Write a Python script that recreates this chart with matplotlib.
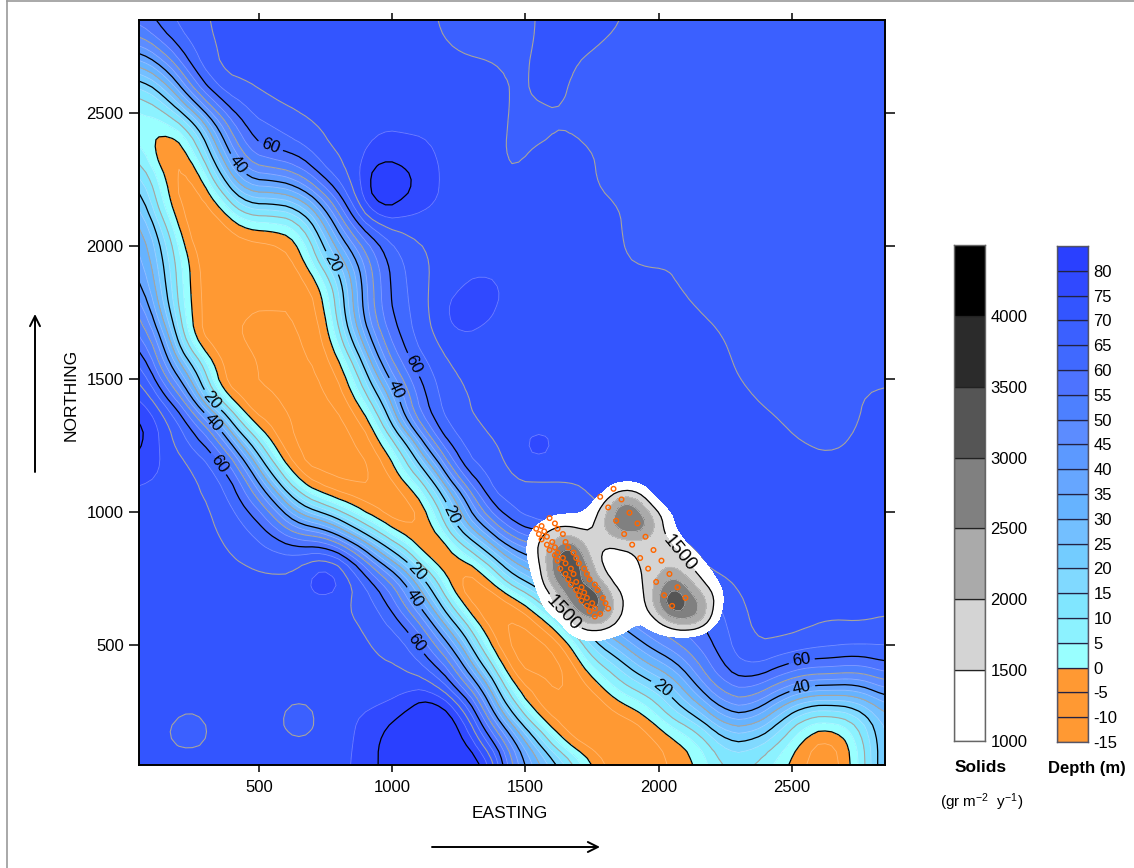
import numpy as np
import matplotlib
matplotlib.use("Agg")
import matplotlib.pyplot as plt
from matplotlib.lines import Line2D

plt.rcParams['font.family'] = ['Liberation Sans', 'DejaVu Sans']
plt.rcParams['mathtext.default'] = 'regular'
plt.rcParams['axes.unicode_minus'] = False

W, H = 1134, 868

# depth (m) on a 100 m grid, north to south
easting = [50 + 100 * i for i in range(29)]
northing = [2850 - 100 * i for i in range(29)]
depth_rows = [
    [57,64,68.5,71,72,72,72,72,72,72,72,70.3,68.5,68,68,70.3,72.5,71.5,70.3,68.5,67.5,67.5,67.5,67.5,67.5,67.5,67.5,67.5,67.5],
    [44,56,66,71,72,72,72,72,72,72,72,71,69.5,69,69.3,70.3,70.8,70.2,69,68,67.5,67.5,67.5,67.5,67.5,67.5,67.5,67.5,67.5],
    [23,37,60,71,71.5,72,72,72,72,72,72,72,71.5,71,69.6,70.3,70.4,69,68.5,68,67.5,67.5,67.5,67.5,67.5,67.5,67.5,67.5,67.5],
    [6,16,42,62,67,70.5,71.5,72,72,72,72,72,72,71,69.7,70.15,70.15,69,68.5,68,67.5,67.5,67.5,67.5,67.5,67.5,67.5,67.5,67.5],
    [3,0,12,43,62,65,68.5,71,72,74.5,74.5,74.4,72.5,71,69.7,69.4,69.95,69,68,67.5,67.5,67.5,67.5,67.5,67.5,67.5,67.5,67.5,67.5],
    [8,-8,0,30,55,60,62,69.5,72,78,76.5,75.5,72.5,71,69.5,70.2,71,70.2,69,68,67.5,67.5,67.5,67.5,67.5,67.5,67.5,67.5,67.5],
    [19,-1.5,-10,15,41,41,47,62,71,87,83,76,72.5,71,69.8,71.5,72,70.2,68.5,68,67.5,67.5,67.5,67.5,67.5,67.5,67.5,67.5,67.5],
    [28,1,-10,-3,18,17,21,42,66,84,78,75,73,72,71.5,72,72,71,70.2,68.5,67.5,67.5,67.5,67.5,67.5,67.5,67.5,67.5,67.5],
    [35,13,-10,-10,-4,-3.5,1,27,52,65,70.3,71.5,72,72,72,72,72,72,70.2,68.5,67.5,67.5,67.5,67.5,67.5,67.5,67.5,67.5,67.5],
    [39,18,-4,-10,-8.5,-8,-5,17,36,57,66,70.8,72,72,72,72,72,72,70.3,69.5,70,69,67.5,67.5,67.5,67.5,67.5,67.5,67.5],
    [44,20,-4,-9,-9.5,-9.5,-9,1,30,56,65,71,74.5,78,73,72,72,72,71,71,70.2,69,67.5,67.5,67.5,67.5,67.5,67.5,67.5],
    [53,24,-3.5,-9,-10,-10,-10,-3,30,56,64,71,79,77,72,72,72,72,72,72,71.5,70.1,68.5,67.5,67.5,67.5,67.5,67.5,67.5],
    [59,38,-4,-9,-10.5,-11,-11,-6,21,49,63,69.7,74.5,72.5,72,72,72,72,72,72,72,72,70,67.8,67.5,67.5,67.5,67.5,67.5],
    [68.5,45,21,-6,-9,-11,-11,-9,5,39,58,66,71.5,72,72,72,72,72,72,72,72,72,71,68,67.5,67.5,67.5,67.5,67.5],
    [75,59,38,-3,-10,-10,-12,-11,-2,22,49,64,69.5,71,72,72,72,72,72,72,72,72,71.8,70,68.5,67.5,68,69.8,71],
    [82,72,57,36,-3,-8,-11,-13,-9,5,44,62,69,71,72,72,72,72,72,72,72,72,72,71,70.2,68,68,69.9,71.5],
    [83,72.5,65,56,28,-3,-12,-13,-12,-4,14,50,65,69,71.5,80,72,72,72,72,72,72,72,72,71.5,70.2,69,71,71.8],
    [76,75,71,65,50,17,-9,-12,-13,-10,4,23,59,66,71,71,70.5,70.5,72,72,72,72,72,72,72,72,72,72,72],
    [74.5,72.5,71,69,58,42,14,0,-6,-10,-9,6,32,62,68,68,69,70,72,72,72,72,72,72,72,72,72,72,72],
    [73,73,72.5,69.7,66,57,42,37,16,1,-9,-3,24,43,61,66,67,68,68,69.5,71,72,72,72,72,72,72,72,72],
    [72,72,72,71,68.5,66,65,68,56,31,11,-11,0,18,38,44,52,60,64,66,68,70,72,72,72,72,72,72,72],
    [72,72,72,72,71.5,71,72,83,71,57,40,12,-11,-6,18,28,44,56,60,64,67,69,70.2,72,72,72,72,72,72],
    [72,72,72,72,72,72,72,72,69.5,66,50,30,0,-12,-10,6,24,40,50,56,60,60,66,71.5,72,72,72,72,72],
    [72,72,72,72,72,72,72,72,71.5,68,64,47,24,-4,-13,-11,3,24,37,47,54,59,64,70.8,72,70.5,68,69,67],
    [72,72,72,72,72,72,72,72,72,70.5,69,59,43,10,-12,-14,-11,10,19,33,41,52,63,68.5,65,62,62,60,63],
    [72,72,72,72,72,72,72,72,72,71,73,73,56,36,-3,-8,-12,-5,8,15,24,43,56,58,50,42,41,40,48],
    [72,71,69.5,71.5,72,71,68,71,74.5,76,80,88,78,50,18,-7,-9,-11,-5,0,14,24,41,42,26,13,12,16,30],
    [72,69.8,68,71,72,71,69.5,71,74.5,80,86,85,85,65,43,17,-6,-10,-12,-8,-2,5,20,20,12,-3,-8,5,27],
    [72,72,72,72,72,72,72,72,75,80,86,86,86,83,50,33,18,0,-8,-8,-5,0,11,10,2,-6,-9,3,28],
]
depth_levels = [-15,-10,-5,0,5,10,15,20,25,30,35,40,45,50,55,60,65,70,75,80,85]
depth_colors = ['#FF9933','#FF9933','#FF9933','#99FFFF','#8CF2FF','#80E6FF','#80D9FF','#73CCFF','#73BFFF',
                '#66B3FF','#66A6FF','#5C99FF','#5C8CFF','#4D80FF','#4D73FF','#4069FF','#3B60FF','#3355FF',
                '#3049FF','#2A40FF']

# solids flux, 50 m grid round the sampled patch
solids_e = [1450 + 50 * i for i in range(17)]
solids_n = [1150 - 50 * i for i in range(14)]
solids_rows = [
    [600,600,600,600,600,600,600,700,750,750,700,600,600,600,600,600,600],
    [600,600,600,600,600,600,600,900,1200,1200,900,600,600,600,600,600,600],
    [600,600,600,600,600,700,950,1600,2500,2400,1500,800,600,600,600,600,600],
    [600,600,700,950,1000,1000,1300,2200,2900,2900,2300,1500,900,600,600,600,600],
    [600,800,1200,1500,1550,1400,1450,2200,2750,2900,2550,1600,1000,600,600,600,600],
    [600,950,1650,2000,2500,2000,1650,1650,1850,1900,1800,1700,1450,850,600,600,600],
    [600,1000,1650,2650,3700,2550,1650,1300,1300,1450,1850,1800,1650,1300,900,600,600],
    [600,850,1450,2750,3550,3100,1950,1250,1200,1300,1700,1900,2050,1600,1250,850,600],
    [600,750,1300,2500,3100,3150,2350,1650,1150,1200,1700,2200,2750,2150,1550,1080,700],
    [600,600,1050,1600,2700,3250,3500,2250,1480,1150,1600,2700,3400,2800,2100,1500,750],
    [600,600,850,1400,2000,3000,3350,2500,1550,1200,1450,2600,3500,3000,2600,1400,750],
    [600,600,600,750,1300,1900,2450,2000,1350,1020,1100,1600,2300,2500,2150,1150,700],
    [600,600,600,600,900,1150,1150,1100,1000,850,850,950,1050,1050,900,600,600],
    [600,600,600,600,600,750,900,750,600,600,600,600,600,600,600,600,600],
]
solids_levels = [1000,1500,2000,2500,3000,3500,4000,4500]
solids_colors = ['#FFFFFF','#D4D4D4','#AAAAAA','#808080','#555555','#2B2B2B','#000000']

# sampling stations
station_e = [1831,1781,1861,1811,1891,1841,1921,1871,1951,1901,1981,1931,2011,1961,2041,1991,2071,2021,2101,2051,
             1591,1611,1621,1561,1541,1571,1551,1581,1561,1641,1651,1601,1581,1661,1611,1591,1681,1621,1611,1641,
             1691,1621,1651,1701,1631,1671,1721,1681,1651,1731,1661,1741,1691,1671,1761,1711,1691,1771,1721,1701,
             1791,1731,1711,1751,1801,1731,1761,1811,1741,1781,1761]
station_n = [1088,1058,1048,1018,998,968,958,918,908,878,858,828,818,788,768,738,718,688,678,648,
             978,958,938,948,938,928,918,908,898,918,888,888,878,868,868,858,848,848,838,828,
             828,818,808,808,788,788,788,768,768,768,748,748,738,728,728,718,708,708,698,688,
             678,678,668,658,658,648,638,638,628,618,608]

# where the contour labels sit
depth_label_pos = [(534,2348),(399,2292),(778,1939),(1055,1541),(991,1451),(1205,985),(316,1413),(320,1330),
                   (357,1188),(1092,775),(1085,677),(1096,512),(2015,339),(2540,425),(2540,335)]
solids_label_pos = [(2090,857),(1655,632)]

ticks = [500,1000,1500,2000,2500]
solids_ticks = [1000,1500,2000,2500,3000,3500,4000]
depth_ticks = [-15,-10,-5,0,5,10,15,20,25,30,35,40,45,50,55,60,65,70,75,80]


def refine(x, y, z, n):
    # finer grid with a small box filter, the 100 m cells look too angular otherwise
    x = np.asarray(x, float)
    y = np.asarray(y, float)
    z = np.asarray(z, float)
    xf = np.linspace(x[0], x[-1], (len(x) - 1) * n + 1)
    yf = np.linspace(y[0], y[-1], (len(y) - 1) * n + 1)
    idx = np.arange(len(x))
    idy = np.arange(len(y))
    ix = np.linspace(0, len(x) - 1, len(xf))
    iy = np.linspace(0, len(y) - 1, len(yf))
    a = np.array([np.interp(ix, idx, r) for r in z])
    b = np.array([np.interp(iy, idy, c) for c in a.T]).T
    k = np.ones(n + 1) / (n + 1)
    p = np.pad(b, n, mode='edge')
    p = np.apply_along_axis(lambda r: np.convolve(r, k, mode='same'), 1, p)
    p = np.apply_along_axis(lambda r: np.convolve(r, k, mode='same'), 0, p)
    return xf, yf, p[n:-n, n:-n]


fig = plt.figure(figsize=(W / 100, H / 100), dpi=100, facecolor='white')


def box(x0, y0, x1, y1):
    return [x0 / W, 1 - y1 / H, (x1 - x0) / W, (y1 - y0) / H]


ax = fig.add_axes(box(139, 20, 885, 765))
ax.set_xlim(50, 2850)
ax.set_ylim(50, 2850)

xf, yf, zf = refine(easting, northing, depth_rows, 4)
zf = np.clip(zf, -14.9, 84.9)
ax.contourf(xf, yf, zf, levels=depth_levels, colors=depth_colors, zorder=1)
ax.contour(xf, yf, zf, levels=[-10,-5,5,15,25,35,45,55,65,75], colors='white', alpha=0.3, linewidths=0.6,
           linestyles='solid', zorder=2)
ax.contour(xf, yf, zf, levels=[10,30,50,70], colors='#A8A59C', linewidths=0.8, zorder=2)
ax.contour(xf, yf, zf, levels=[0,80], colors='black', linewidths=0.9, linestyles='solid', zorder=3)
black = ax.contour(xf, yf, zf, levels=[20,40,60], colors='black', linewidths=0.9, zorder=3)
ax.clabel(black, manual=depth_label_pos, fmt='%d', fontsize=12, inline_spacing=4, colors='black')

sx, sy, sz = refine(solids_e, solids_n, solids_rows, 3)
sz = np.clip(sz, 0, 4499)
ax.contourf(sx, sy, sz, levels=solids_levels, colors=solids_colors, zorder=4)
ax.contour(sx, sy, sz, levels=[2000,2500,3000,3500], colors='#C8C8C8', linewidths=0.4, zorder=5)
s15 = ax.contour(sx, sy, sz, levels=[1500], colors='black', linewidths=0.9, zorder=5)
lab = ax.clabel(s15, manual=solids_label_pos, fmt='%d', fontsize=13.5, inline_spacing=3, colors='black')
for t in lab:
    t.set_zorder(6)

ax.scatter(station_e, station_n, s=11, facecolors='none', edgecolors='#FF6600', linewidths=1.0, zorder=7)

ax.set_xlim(50, 2850)
ax.set_ylim(50, 2850)
ax.set_xticks(ticks)
ax.set_yticks(ticks)
ax.tick_params(axis='both', direction='out', length=7, width=1.1, labelsize=12, top=True, right=True, pad=4)
ax.tick_params(axis='x', top=True, length=5, pad=6)
for s in ax.spines.values():
    s.set_linewidth(1.4)
ax.set_xlabel('EASTING', fontsize=12.5, va='center')
ax.set_ylabel('NORTHING', fontsize=12.5, va='center')
ax.xaxis.set_label_coords((510 - 139) / 746, (765 - 813) / 745)
ax.yaxis.set_label_coords((71 - 139) / 746, (765 - 395) / 745)

# solids key
cb1 = fig.add_axes(box(954, 245, 985, 741))
for i in range(len(solids_colors)):
    cb1.bar(0, solids_levels[i + 1] - solids_levels[i], bottom=solids_levels[i], width=1,
            color=solids_colors[i], edgecolor='#222222', linewidth=0.9)
cb1.set_xlim(-0.5, 0.5)
cb1.set_ylim(1000, 4500)
cb1.set_xticks([])
cb1.yaxis.tick_right()
cb1.set_yticks(solids_ticks)
cb1.tick_params(axis='y', length=0, labelsize=12, pad=4)
for s in cb1.spines.values():
    s.set_color('#666666')
    s.set_linewidth(1.0)

# depth key
cb2 = fig.add_axes(box(1057, 246, 1088, 742))
for i in range(len(depth_colors)):
    cb2.bar(0, depth_levels[i + 1] - depth_levels[i], bottom=depth_levels[i], width=1,
            color=depth_colors[i], edgecolor='#222244', linewidth=0.9)
cb2.set_xlim(-0.5, 0.5)
cb2.set_ylim(-15, 85)
cb2.set_xticks([])
cb2.yaxis.tick_right()
cb2.set_yticks(depth_ticks)
cb2.tick_params(axis='y', length=0, labelsize=12, pad=4)
for s in cb2.spines.values():
    s.set_color('#555566')
    s.set_linewidth(1.0)

fig.text(981 / W, 1 - 768 / H, 'Solids', fontsize=12.5, fontweight='bold', ha='center', va='center')
fig.text(1087 / W, 1 - 768 / H, 'Depth (m)', fontsize=12, fontweight='bold', ha='center', va='center')
fig.text(982 / W, 1 - 802 / H, '(gr m$^{-2}$  y$^{-1}$)', fontsize=11, ha='center', va='center')

# direction arrows
arr = dict(arrowstyle='->', color='black', lw=1.4, mutation_scale=18, shrinkA=0, shrinkB=0)
ax.annotate('', xy=(600 / W, 1 - 847 / H), xytext=(432 / W, 1 - 847 / H), xycoords='figure fraction',
            textcoords='figure fraction', arrowprops=arr, annotation_clip=False)
ax.annotate('', xy=(35 / W, 1 - 314 / H), xytext=(35 / W, 1 - 472 / H), xycoords='figure fraction',
            textcoords='figure fraction', arrowprops=arr, annotation_clip=False)

# page edge from the screenshot
fig.add_artist(Line2D([6.5 / W, 6.5 / W], [0, 1 - 1 / H], color='#999999', lw=1.2))
fig.add_artist(Line2D([6.5 / W, 1], [1 - 1 / H, 1 - 1 / H], color='#999999', lw=1.2))

fig.savefig('out.png', dpi=100)
